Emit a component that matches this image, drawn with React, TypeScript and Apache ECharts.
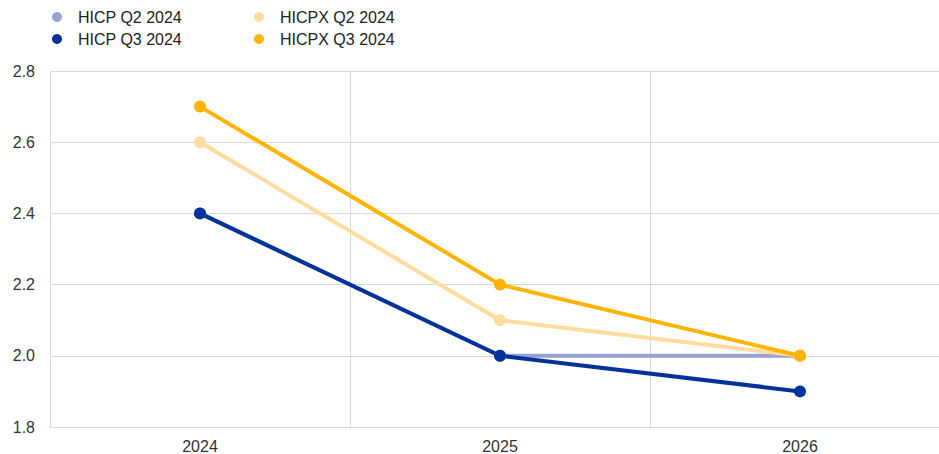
import React, { useEffect, useRef } from "react";
import * as echarts from "echarts";

const categories = ["2024", "2025", "2026"];
const hicpQ2 = [2.4, 2.0, 2.0];
const hicpQ3 = [2.4, 2.0, 1.9];
const hicpxQ2 = [2.6, 2.1, 2.0];
const hicpxQ3 = [2.7, 2.2, 2.0];
const names = ["HICP Q2 2024", "HICP Q3 2024", "HICPX Q2 2024", "HICPX Q3 2024"];
const colors = ["#98a1d3", "#003299", "#fddc9e", "#ffb400"];

export default function App() {
  const ref = useRef<HTMLDivElement>(null);
  useEffect(() => {
    if (!ref.current) return;
    const chart = echarts.init(ref.current, undefined, { renderer: "svg" });
    const mk = (i: number, data: number[]) => ({
      name: names[i],
      type: "line",
      data,
      symbol: "circle",
      symbolSize: 12,
      lineStyle: { width: 4, color: colors[i] },
      itemStyle: { color: colors[i] },
    });
    const font = "Liberation Sans, Arial, sans-serif";
    const legendText = {
      color: "#222",
      fontSize: 16,
      fontFamily: font,
      lineHeight: 16,
      padding: [0, 0, 0, 11],
    };
    const legendBase = {
      orient: "vertical",
      top: 9,
      padding: 0,
      itemWidth: 10,
      itemHeight: 10,
      itemGap: 6,
      icon: "circle",
      textStyle: legendText,
    };
    chart.setOption({
      animation: false,
      backgroundColor: "#fff",
      legend: [
        { ...legendBase, data: [names[0], names[1]], left: 52 },
        { ...legendBase, data: [names[2], names[3]], left: 254 },
      ],
      grid: { left: 50, right: 21, top: 71, bottom: 26, containLabel: false },
      xAxis: {
        type: "category",
        data: categories,
        boundaryGap: true,
        axisLine: { show: true, lineStyle: { color: "#d9d9d9", width: 1 } },
        axisTick: { show: false },
        splitLine: { show: true, lineStyle: { color: "#d9d9d9", width: 1 } },
        axisLabel: { color: "#333", fontSize: 16, fontFamily: font, margin: 11 },
      },
      yAxis: {
        type: "value",
        min: 1.8,
        max: 2.8,
        interval: 0.2,
        axisLine: { show: true, lineStyle: { color: "#d9d9d9", width: 1 } },
        axisTick: { show: false },
        splitLine: { show: true, lineStyle: { color: "#d9d9d9", width: 1 } },
        axisLabel: {
          color: "#333",
          fontSize: 16,
          fontFamily: font,
          margin: 15,
          formatter: (v: number) => v.toFixed(1),
        },
      },
      series: [mk(0, hicpQ2), mk(2, hicpxQ2), mk(1, hicpQ3), mk(3, hicpxQ3)],
    });
    return () => chart.dispose();
  }, []);
  return (
    <div
      style={{
        position: "absolute",
        left: 0,
        top: 0,
        width: 939,
        height: 454,
        overflow: "hidden",
        background: "#fff",
      }}
    >
      <div ref={ref} style={{ width: 971, height: 454 }} />
    </div>
  );
}
